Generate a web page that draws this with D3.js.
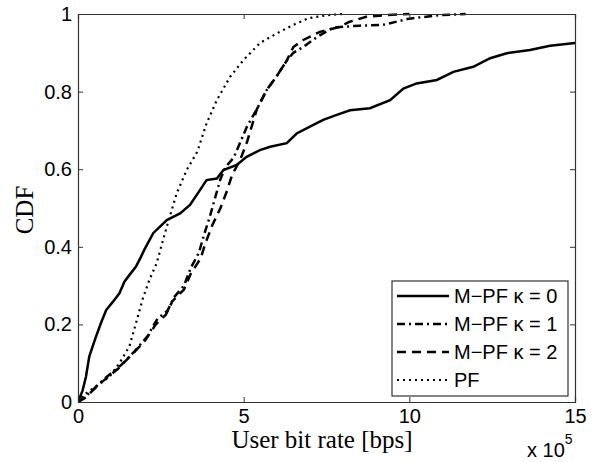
<!DOCTYPE html>
<html>
<head>
<meta charset="utf-8">
<script src="https://cdn.jsdelivr.net/npm/d3@7"></script>
<style>
  body { margin: 0; background: #fff; }
  .tick text { font-family: "Liberation Sans", Arial, sans-serif; font-size: 20px; fill: #000; }
  .label { font-family: "Liberation Serif", "Times New Roman", serif; font-size: 25px; fill: #000; }
  .legend text, .expo { font-family: "Liberation Sans", Arial, sans-serif; font-size: 20px; fill: #000; }
</style>
</head>
<body>
<svg id="chart" width="597" height="462"></svg>
<script>
// values are [bit rate in 1e5 bps, CDF]
var mpf0 = [[0,0],[0.02,0.005],[0.14,0.03],[0.24,0.065],[0.34,0.117],[0.44,0.143],[0.54,0.168],[0.69,0.203],
  [0.85,0.237],[1.05,0.258],[1.25,0.28],[1.4,0.31],[1.55,0.327],[1.75,0.349],[1.9,0.374],[2.0,0.392],
  [2.27,0.435],[2.68,0.469],[3.08,0.486],[3.38,0.508],[3.68,0.546],[3.88,0.572],[4.19,0.576],[4.39,0.598],
  [4.79,0.611],[5.09,0.632],[5.49,0.649],[5.8,0.658],[6.3,0.667],[6.6,0.692],[7.0,0.71],[7.4,0.727],
  [7.81,0.74],[8.21,0.752],[8.81,0.757],[9.42,0.778],[9.82,0.808],[10.22,0.821],[10.83,0.83],[11.33,0.851],
  [11.93,0.864],[12.44,0.886],[12.94,0.899],[13.64,0.907],[14.25,0.918],[15,0.925]];

var mpf1 = [[0,0],[0.3,0.02],[0.8,0.06],[1.3,0.095],[1.7,0.13],[2.1,0.17],[2.4,0.215],[2.7,0.235],
  [2.9,0.27],[3.2,0.3],[3.4,0.345],[3.65,0.385],[3.8,0.43],[3.98,0.478],[4.15,0.53],[4.3,0.575],
  [4.45,0.605],[4.7,0.63],[4.85,0.66],[5.1,0.71],[5.4,0.755],[5.7,0.805],[6.0,0.84],[6.3,0.88],
  [6.5,0.9],[6.8,0.915],[7.2,0.94],[7.7,0.965],[8.5,0.97],[9.2,0.972],[10,0.988],[10.9,0.997],[11.7,1]];

var mpf2 = [[0,0],[0.2,0.01],[0.7,0.05],[1.2,0.085],[1.6,0.12],[2.0,0.155],[2.35,0.2],[2.65,0.225],
  [2.85,0.26],[3.2,0.29],[3.4,0.33],[3.7,0.37],[3.85,0.41],[4.05,0.455],[4.3,0.5],[4.5,0.545],
  [4.65,0.585],[4.9,0.625],[5.1,0.67],[5.4,0.755],[5.7,0.805],[6.0,0.84],[6.3,0.88],[6.5,0.915],
  [6.8,0.933],[7.3,0.954],[7.9,0.967],[8.2,0.98],[8.7,0.993],[9.3,0.997],[10,1]];

var pf = [[0,0],[0.04,0.01],[0.54,0.04],[0.95,0.065],[1.25,0.1],[1.55,0.143],[1.75,0.203],[1.95,0.265],
  [2.15,0.314],[2.37,0.357],[2.68,0.452],[2.98,0.538],[3.28,0.598],[3.6,0.645],[3.88,0.718],[4.19,0.778],
  [4.59,0.838],[4.99,0.881],[5.49,0.925],[6.0,0.95],[6.5,0.972],[6.95,0.989],[7.5,0.997],[8,1]];

var seriesNames = ["M\u2212PF \u03ba = 0", "M\u2212PF \u03ba = 1", "M\u2212PF \u03ba = 2", "PF"];
var xTicks = [0, 5, 10, 15];
var yTicks = [0, 0.2, 0.4, 0.6, 0.8, 1];

(function() {
  var styles = [
    { dash: null, width: 2.5 },
    { dash: "8,4,2,4", width: 2.5 },
    { dash: "9,6", width: 2.5 },
    { dash: "2,4", width: 2.2 }
  ];

  var svg = d3.select("#chart");
  var pLeft = 78, pRight = 575, pTop = 14, pBottom = 402;

  var x = d3.scaleLinear().domain([0, 15]).range([pLeft, pRight]);
  var y = d3.scaleLinear().domain([0, 1]).range([pBottom, pTop]);

  svg.append("clipPath").attr("id", "plotclip")
    .append("rect").attr("x", pLeft).attr("y", pTop - 2)
    .attr("width", pRight - pLeft).attr("height", pBottom - pTop + 2);

  // curves
  var line = d3.line().x(function(d) { return x(d[0]); }).y(function(d) { return y(d[1]); });
  [mpf0, mpf1, mpf2, pf].forEach(function(data, i) {
    svg.append("path")
      .datum(data)
      .attr("d", line)
      .attr("fill", "none")
      .attr("stroke", "#000")
      .attr("stroke-width", styles[i].width)
      .attr("stroke-dasharray", styles[i].dash)
      .attr("clip-path", "url(#plotclip)");
  });

  // axes with inward ticks, mirrored on all four sides
  var tickLen = 5;
  svg.append("g").attr("transform", `translate(0,${pBottom})`)
    .call(d3.axisBottom(x).tickValues(xTicks).tickSize(-tickLen).tickPadding(7).tickFormat(d3.format("d")));
  svg.append("g").attr("transform", `translate(0,${pTop})`)
    .call(d3.axisTop(x).tickValues(xTicks).tickSize(-tickLen).tickFormat(""));
  svg.append("g").attr("transform", `translate(${pLeft},0)`)
    .call(d3.axisLeft(y).tickValues(yTicks).tickSize(-tickLen).tickPadding(6)
      .tickFormat(function(d) { return d === 0 || d === 1 ? d : d3.format(".1f")(d); }));
  svg.append("g").attr("transform", `translate(${pRight},0)`)
    .call(d3.axisRight(y).tickValues(yTicks).tickSize(-tickLen).tickFormat(""));

  svg.selectAll(".domain").attr("stroke", "#333").attr("stroke-width", 1.2);
  svg.selectAll(".tick line").attr("stroke", "#333");

  // axis labels
  svg.append("text").attr("class", "label")
    .attr("x", 322).attr("y", 448).attr("text-anchor", "middle")
    .text("User bit rate [bps]");
  svg.append("text").attr("class", "label")
    .attr("transform", "translate(33,210) rotate(-90)").attr("text-anchor", "middle")
    .text("CDF");

  var expo = svg.append("text").attr("class", "expo").attr("x", 527).attr("y", 457);
  expo.append("tspan").text("x 10");
  expo.append("tspan").text("5").attr("dy", -13).style("font-size", "14px");

  // legend
  var lgX = 392, lgY = 281, lgW = 176, lgH = 115, rowH = 28;
  var legend = svg.append("g").attr("class", "legend");
  legend.append("rect")
    .attr("x", lgX).attr("y", lgY).attr("width", lgW).attr("height", lgH)
    .attr("fill", "#fff").attr("stroke", "#333").attr("stroke-width", 1.2);

  seriesNames.forEach(function(name, i) {
    var cy = lgY + 15 + i * rowH;
    legend.append("line")
      .attr("x1", lgX + 5).attr("x2", lgX + 57).attr("y1", cy).attr("y2", cy)
      .attr("stroke", "#000")
      .attr("stroke-width", styles[i].width)
      .attr("stroke-dasharray", styles[i].dash);
    legend.append("text")
      .attr("x", lgX + 62).attr("y", cy + 7)
      .text(name);
  });
})();
</script>
</body>
</html>
